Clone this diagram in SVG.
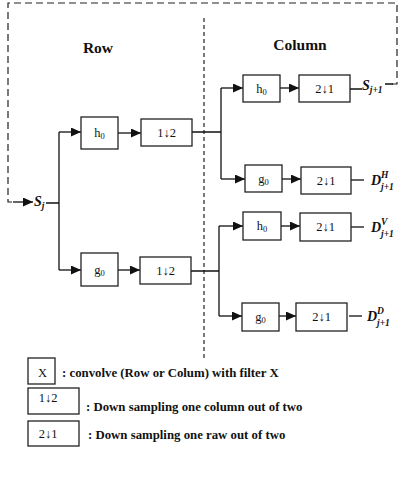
<svg xmlns="http://www.w3.org/2000/svg" width="402" height="480" viewBox="0 0 402 480">
<style>
.box{fill:#fff;stroke:#222;stroke-width:1.3}
.ln{fill:none;stroke:#111;stroke-width:1.3}
.dash{fill:none;stroke:#222;stroke-width:1.2;stroke-dasharray:7 4}
.div{fill:none;stroke:#222;stroke-width:1.2;stroke-dasharray:4 3}
.t{font-family:"Liberation Serif","Times New Roman",serif;font-size:12.5px;fill:#111;text-anchor:middle}
.sub{font-size:8.5px}
.h{font-family:"Liberation Serif","Times New Roman",serif;font-size:15.5px;font-weight:bold;fill:#111;text-anchor:middle}
.v{font-family:"Liberation Serif","Times New Roman",serif;font-weight:bold;font-style:italic;fill:#111;font-size:14px}
.vs{font-size:9.5px}
.lg{font-family:"Liberation Serif","Times New Roman",serif;font-size:12.8px;font-weight:bold;fill:#111}
</style>
<defs>
<marker id="ah" markerUnits="userSpaceOnUse" markerWidth="10" markerHeight="9" refX="10" refY="4.5" orient="auto">
<path d="M0,0 L10,4.5 L0,9 z" fill="#111"/>
</marker>
</defs>
<rect width="402" height="480" fill="#fff"/>

<g id="titles">
<text class="h" x="98" y="53">Row</text>
<text class="h" x="300" y="50">Column</text>
</g>

<g id="connectors">
<path class="div" d="M204,18 V360"/>
<path class="dash" d="M392,84 H397 V3 H8 V202 H14"/>
<path class="ln" d="M13,202 H33" marker-end="url(#ah)"/>
<path class="ln" d="M46,203 H59 M59,132 V270"/>
<path class="ln" d="M59,132 H81" marker-end="url(#ah)"/>
<path class="ln" d="M59,270 H81" marker-end="url(#ah)"/>
<path class="ln" d="M118,133 H141" marker-end="url(#ah)"/>
<path class="ln" d="M118,270 H140" marker-end="url(#ah)"/>
<path class="ln" d="M192,132 H221 M221,88 V179"/>
<path class="ln" d="M221,88 H243" marker-end="url(#ah)"/>
<path class="ln" d="M221,179 H245" marker-end="url(#ah)"/>
<path class="ln" d="M191,271 H219 M219,226 V316"/>
<path class="ln" d="M219,226 H243" marker-end="url(#ah)"/>
<path class="ln" d="M219,316 H242" marker-end="url(#ah)"/>
<path class="ln" d="M280,88 H299" marker-end="url(#ah)"/>
<path class="ln" d="M282,179 H301" marker-end="url(#ah)"/>
<path class="ln" d="M281,226 H300" marker-end="url(#ah)"/>
<path class="ln" d="M279,316 H296" marker-end="url(#ah)"/>
<path class="ln" d="M350,89 H362 M385,84 H393"/>
<path class="ln" d="M351,180 H364"/>
<path class="ln" d="M351,227 H364"/>
<path class="ln" d="M349,316 H362"/>
</g>

<g id="Sj"><text class="v" x="34" y="206">S<tspan class="vs" dy="3">j</tspan></text></g>

<g id="row_h0"><rect class="box" x="81" y="117" width="37" height="32"/><text class="t" x="99.5" y="137">h<tspan class="sub" dy="2">0</tspan></text></g>
<g id="row_ds_top"><rect class="box" x="141" y="119" width="51" height="27"/><text class="t" x="166.5" y="137">1↓2</text></g>
<g id="row_g0"><rect class="box" x="81" y="253" width="37" height="33"/><text class="t" x="99.5" y="274">g<tspan class="sub" dy="2">0</tspan></text></g>
<g id="row_ds_bot"><rect class="box" x="140" y="257" width="51" height="27"/><text class="t" x="165.5" y="275">1↓2</text></g>

<g id="col_h0_a"><rect class="box" x="243" y="75" width="37" height="27"/><text class="t" x="261.5" y="93">h<tspan class="sub" dy="2">0</tspan></text></g>
<g id="col_ds_a"><rect class="box" x="299" y="75" width="51" height="27"/><text class="t" x="324.5" y="93">2↓1</text></g>
<g id="Sj1"><text class="v" x="362" y="90">S<tspan class="vs" dy="3">j+1</tspan></text></g>

<g id="col_g0_a"><rect class="box" x="245" y="165" width="37" height="27"/><text class="t" x="263.5" y="183">g<tspan class="sub" dy="2">0</tspan></text></g>
<g id="col_ds_b"><rect class="box" x="301" y="167" width="50" height="27"/><text class="t" x="326" y="185">2↓1</text></g>
<g id="DH"><text class="v" x="371" y="185">D</text><text class="v vs" x="381" y="178">H</text><text class="v vs" x="381" y="190">j+1</text></g>

<g id="col_h0_b"><rect class="box" x="243" y="212" width="38" height="28"/><text class="t" x="262" y="230">h<tspan class="sub" dy="2">0</tspan></text></g>
<g id="col_ds_c"><rect class="box" x="300" y="213" width="51" height="28"/><text class="t" x="325.5" y="231">2↓1</text></g>
<g id="DV"><text class="v" x="371" y="232">D</text><text class="v vs" x="381" y="225">V</text><text class="v vs" x="381" y="237">j+1</text></g>

<g id="col_g0_b"><rect class="box" x="242" y="303" width="37" height="28"/><text class="t" x="260.5" y="321">g<tspan class="sub" dy="2">0</tspan></text></g>
<g id="col_ds_d"><rect class="box" x="296" y="303" width="51" height="28"/><text class="t" x="321.5" y="321">2↓1</text></g>
<g id="DD"><text class="v" x="367" y="321">D</text><text class="v vs" x="377" y="314">D</text><text class="v vs" x="377" y="326">j+1</text></g>

<g id="legend">
<rect class="box" x="28" y="358" width="27" height="26"/><text class="t" x="38" y="377" style="text-anchor:start">X</text>
<text class="lg" x="62" y="377">: convolve (Row or Colum) with filter X</text>
<rect class="box" x="28" y="388" width="51" height="26"/><text class="t" x="48" y="402">1↓2</text>
<text class="lg" x="86" y="411">: Down sampling one column out of two</text>
<rect class="box" x="28" y="421" width="51" height="25"/><text class="t" x="48" y="438">2↓1</text>
<text class="lg" x="88" y="439">: Down sampling one raw out of two</text>
</g>
</svg>
